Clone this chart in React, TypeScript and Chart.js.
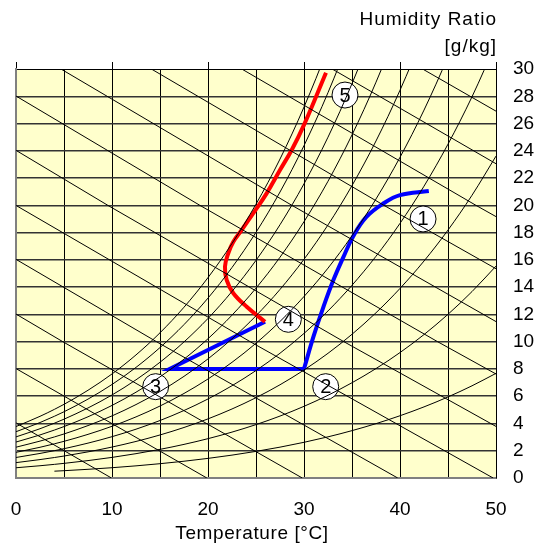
import React, { useEffect, useRef } from 'react';
import { Chart, registerables } from 'chart.js';

Chart.register(...registerables);

// Axis ticks
const tempTicks = [0, 10, 20, 30, 40, 50];
const humidityTicks = [0, 2, 4, 6, 8, 10, 12, 14, 16, 18, 20, 22, 24, 26, 28, 30];

// Saturation vapour pressure table (kPa) used for the relative-humidity grid curves
const satTemps = [0, 2.5, 4, 5, 7.5, 10, 12.5, 15, 17.5, 20, 22.5, 25, 27.5, 30, 32.5, 35, 37.5, 40, 42.5, 45, 47.5, 50];
const satPressureKPa = [0.6112, 0.7316, 0.8135, 0.8726, 1.0376, 1.2282, 1.4497, 1.7057, 2.0004, 2.3392, 2.7271, 3.1699, 3.6731, 4.2467, 4.8943, 5.629, 6.4554, 7.3849, 8.4266, 9.595, 10.898, 12.352];
const atmPressureKPa = 101.325;
const rhLevels = [100, 90, 80, 70, 60, 50, 40, 30, 20, 10];
const rhStartTemps = [0, 0, 0, 0, 0, 0, 0, 0, 0, 4];
const enthalpyLevels = [10, 20, 30, 40, 50, 60, 70, 80, 90, 100, 110, 120];
const enthalpyHumiditySteps = [30, 20, 10, 0];

// Process lines
const redTemps = [25.94, 24.03, 22.64, 21.95, 21.77, 22.11, 22.64, 23.51, 24.72, 26.11, 27.5, 28.72, 30.0, 32.29];
const redHumidity = [11.46, 12.56, 13.55, 14.52, 15.5, 16.48, 17.33, 18.19, 19.42, 20.88, 22.59, 24.06, 25.9, 29.73];

const blueStraightTemps = [25.94, 16.0, 30.0];
const blueStraightHumidity = [11.46, 8.0, 8.0];

const blueCurveTemps = [30.0, 31.0, 32.0, 33.05, 34.1, 35.1, 36.5, 38.3, 40.0, 43.0];
const blueCurveHumidity = [8.0, 10.4, 12.5, 14.5, 16.2, 17.7, 19.15, 20.15, 20.75, 21.05];

// State markers
const markerLabels = ['1', '2', '3', '4', '5'];
const markerTemps = [42.4, 32.26, 14.55, 28.37, 34.27];
const markerHumidity = [19.0, 6.7, 6.7, 11.64, 28.09];

const FONT = '"Liberation Sans", Arial, sans-serif';

export default function App() {
  const canvasRef = useRef<HTMLCanvasElement | null>(null);

  useEffect(() => {
    const canvas = canvasRef.current;
    if (!canvas) return;

    const rhDatasets = rhLevels.map((rh, k) => ({
      data: satTemps
        .map((t, i) => ({ t, p: satPressureKPa[i] }))
        .filter((d) => d.t >= rhStartTemps[k])
        .map((d) => {
          const pw = (rh / 100) * d.p;
          return { x: d.t, y: (622 * pw) / (atmPressureKPa - pw) };
        }),
      showLine: true,
      borderColor: '#000',
      borderWidth: 1,
      pointRadius: 0,
      cubicInterpolationMode: 'monotone' as const,
    }));

    const enthalpyDatasets = enthalpyLevels.map((h) => ({
      data: enthalpyHumiditySteps.map((w) => ({
        x: (h - 2.501 * w) / (1.006 + 0.00186 * w),
        y: w,
      })),
      showLine: true,
      borderColor: '#000',
      borderWidth: 1,
      pointRadius: 0,
      tension: 0,
    }));

    const redData = redTemps.map((t, i) => ({ x: t, y: redHumidity[i] }));
    const blueStraight = blueStraightTemps.map((t, i) => ({ x: t, y: blueStraightHumidity[i] }));
    const blueCurve = blueCurveTemps.map((t, i) => ({ x: t, y: blueCurveHumidity[i] }));
    const markers = markerTemps.map((t, i) => ({ x: t, y: markerHumidity[i] }));
    const markerIndex = rhDatasets.length + enthalpyDatasets.length + 3;

    const bgPlugin = {
      id: 'bg',
      beforeDraw(chart: any) {
        const { ctx, chartArea } = chart;
        ctx.save();
        ctx.fillStyle = '#FFFFCC';
        ctx.fillRect(chartArea.left, chartArea.top, chartArea.right - chartArea.left, chartArea.bottom - chartArea.top);
        ctx.restore();
      },
    };

    const textPlugin = {
      id: 'texts',
      afterDraw(chart: any) {
        const { ctx, chartArea } = chart;
        ctx.save();
        ctx.fillStyle = '#000';
        ctx.font = `20px ${FONT}`;
        ctx.textAlign = 'center';
        ctx.textBaseline = 'middle';
        const meta = chart.getDatasetMeta(markerIndex);
        meta.data.forEach((el: any, i: number) => {
          ctx.fillText(markerLabels[i], el.x, el.y + 1);
        });
        ctx.font = `19px ${FONT}`;
        ctx.textBaseline = 'alphabetic';
        ctx.textAlign = 'right';
        (ctx as any).letterSpacing = '1px';
        ctx.fillText('Humidity Ratio', chartArea.right + 1, 25);
        ctx.fillText('[g/kg]', chartArea.right + 1, 52);
        ctx.textAlign = 'center';
        (ctx as any).letterSpacing = '0.6px';
        ctx.fillText('Temperature [°C]', 252, 539);
        ctx.restore();
      },
    };

    const chart = new Chart(canvas, {
      type: 'scatter',
      data: {
        datasets: [
          ...rhDatasets,
          ...enthalpyDatasets,
          {
            data: redData,
            showLine: true,
            borderColor: '#ff0000',
            borderWidth: 4,
            pointRadius: 0,
            tension: 0.4,
          },
          {
            data: blueStraight,
            showLine: true,
            borderColor: '#0000ff',
            borderWidth: 4,
            pointRadius: 0,
            tension: 0,
          },
          {
            data: blueCurve,
            showLine: true,
            borderColor: '#0000ff',
            borderWidth: 4,
            pointRadius: 0,
            tension: 0.4,
          },
          {
            data: markers,
            showLine: false,
            pointRadius: 13,
            pointBackgroundColor: '#ffffff',
            pointBorderColor: '#000000',
            pointBorderWidth: 1,
            clip: false as any,
          },
        ] as any,
      },
      options: {
        animation: false,
        responsive: true,
        maintainAspectRatio: false,
        events: [],
        layout: { padding: 0 },
        plugins: {
          legend: { display: false },
          tooltip: { enabled: false },
          title: { display: false },
        },
        scales: {
          x: {
            type: 'linear',
            position: 'bottom',
            min: 0,
            max: 50,
            afterFit: (s: any) => {
              s.height = 66;
            },
            ticks: {
              stepSize: 5,
              autoSkip: false,
              maxRotation: 0,
              padding: 3,
              color: '#000',
              font: { family: FONT, size: 19 },
              callback: (v: any) => (tempTicks.includes(Number(v)) ? String(v) : ''),
            },
            grid: {
              drawTicks: true,
              tickLength: 17,
              tickColor: 'rgba(0,0,0,0)',
              lineWidth: 1,
              color: (c: any) =>
                c.tick && (c.tick.value === 0 || c.tick.value === 50) ? 'rgba(0,0,0,0)' : '#000',
            },
            border: { color: '#808080', width: 2 },
          },
          xTop: {
            type: 'linear',
            position: 'top',
            min: 0,
            max: 50,
            afterFit: (s: any) => {
              s.height = 69;
            },
            ticks: { stepSize: 10, display: false },
            grid: { drawOnChartArea: false, drawTicks: true, tickLength: 7, color: '#000', lineWidth: 1 },
            border: { color: '#000', width: 1 },
          },
          y: {
            type: 'linear',
            position: 'right',
            min: 0,
            max: 30,
            afterFit: (s: any) => {
              s.width = 41;
            },
            afterBuildTicks: (s: any) => {
              s.ticks = humidityTicks.map((v) => ({ value: v }));
            },
            ticks: {
              stepSize: 2,
              padding: 17,
              color: '#000',
              font: { family: FONT, size: 19 },
            },
            grid: {
              drawTicks: false,
              lineWidth: 1.5,
              color: (c: any) =>
                c.tick && (c.tick.value === 0 || c.tick.value === 30) ? 'rgba(0,0,0,0)' : '#333',
            },
            border: { color: '#000', width: 1 },
          },
          yLeft: {
            type: 'linear',
            position: 'left',
            min: 0,
            max: 30,
            afterFit: (s: any) => {
              s.width = 16;
            },
            ticks: { display: false },
            grid: { drawOnChartArea: false, drawTicks: false },
            border: { color: '#808080', width: 2 },
          },
        },
      } as any,
      plugins: [bgPlugin, textPlugin],
    });

    return () => {
      chart.destroy();
    };
  }, []);

  return (
    <div style={{ position: 'fixed', left: 0, top: 0, width: 537, height: 544, background: '#fff' }}>
      <canvas ref={canvasRef} />
    </div>
  );
}
